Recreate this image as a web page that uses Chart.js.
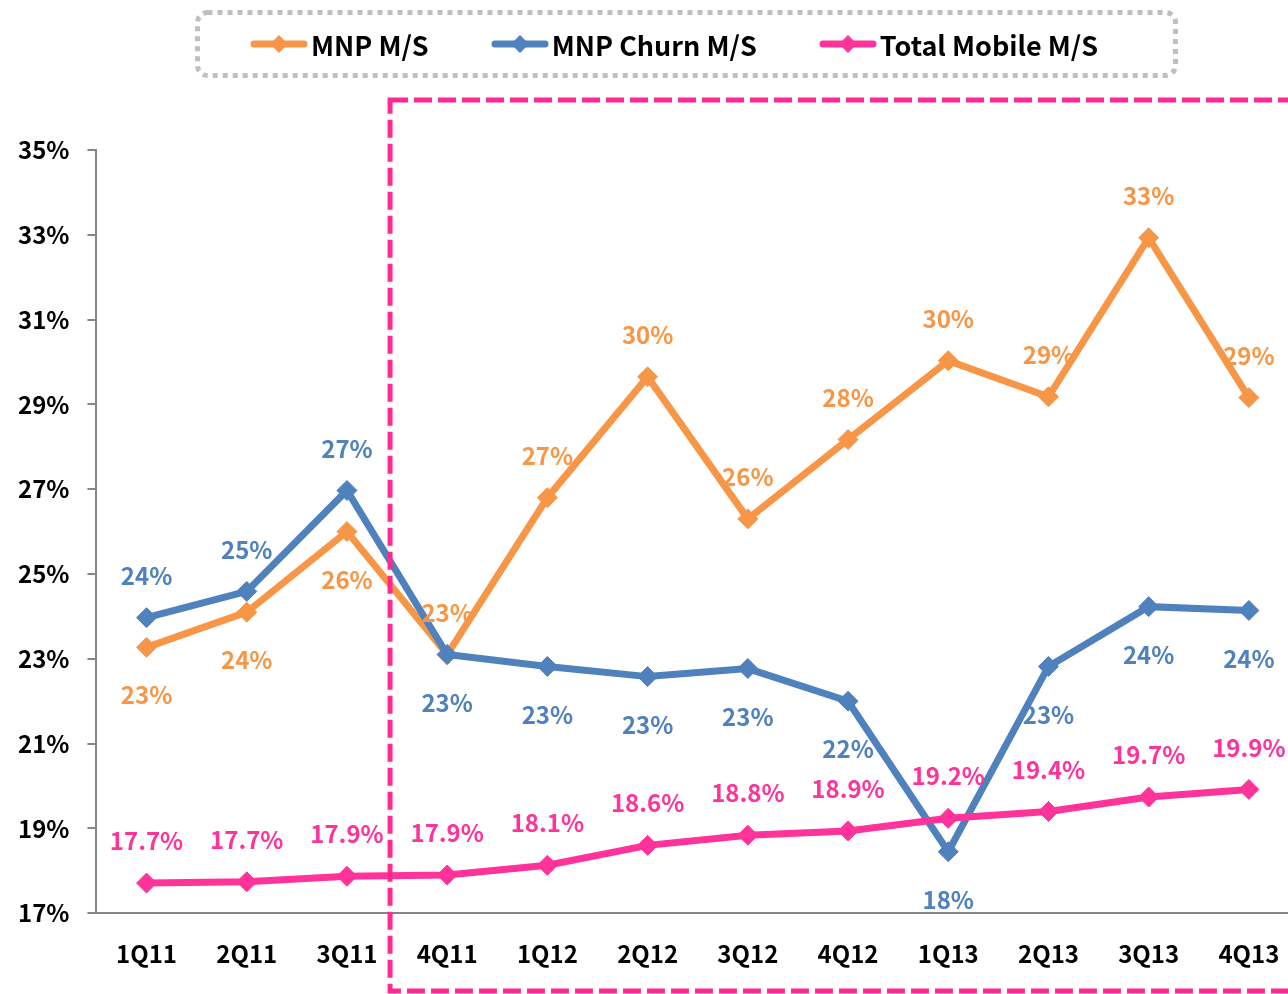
<!DOCTYPE html>
<html>
<head>
<meta charset="utf-8">
<script src="https://cdn.jsdelivr.net/npm/chart.js@4.4.1/dist/chart.umd.min.js"></script>
<style>
  html, body { margin: 0; padding: 0; background: #fff; overflow: hidden; }
  #wrap { position: relative; width: 1310px; height: 994px; }
  #legend { position: absolute; left: 195px; top: 10px; width: 983px; height: 68px; }
  #legend svg.box { position: absolute; left: 0; top: 0; }
  #legend .items { position: absolute; left: 55px; top: 0; height: 68px; display: flex; align-items: center;
    font-family: "Noto Sans CJK KR", "DejaVu Sans", sans-serif; font-weight: bold; font-size: 27px; color: #000; }
  #legend .item { display: flex; align-items: center; margin-right: 62px; }
  #legend .item svg { margin-right: 3px; }
</style>
</head>
<body>
<div id="wrap">
  <canvas id="mycanvas" width="1310" height="994"></canvas>
  <div id="legend"></div>
</div>
<script>
var quarters = ['1Q11', '2Q11', '3Q11', '4Q11', '1Q12', '2Q12', '3Q12', '4Q12', '1Q13', '2Q13', '3Q13', '4Q13'];
var mnpShare = [23.27, 24.1, 26.0, 23.1, 26.8, 29.65, 26.3, 28.17, 30.03, 29.18, 32.93, 29.16];
var mnpChurn = [23.97, 24.59, 26.97, 23.1, 22.82, 22.58, 22.77, 22.0, 18.45, 22.82, 24.23, 24.14];
var totalShare = [17.71, 17.74, 17.87, 17.9, 18.13, 18.6, 18.84, 18.94, 19.24, 19.4, 19.74, 19.92];
var yTicks = [17, 19, 21, 23, 25, 27, 29, 31, 33, 35];

// where each value label sits relative to its point
var labelSides = [
  ['below', 'below', 'below', 'above', 'above', 'above', 'above', 'above', 'above', 'above', 'above', 'above'],
  ['above', 'above', 'above', 'below', 'below', 'below', 'below', 'below', 'below', 'below', 'below', 'below'],
  ['above', 'above', 'above', 'above', 'above', 'above', 'above', 'above', 'above', 'above', 'above', 'above']
];

var orange = '#F79646';
var blue = '#4F81BD';
var pink = '#FF3399';
var font = '"Noto Sans CJK KR", "DejaVu Sans", sans-serif';

function series(label, data, color, order) {
  return {
    label: label,
    data: data,
    order: order,
    borderColor: color,
    backgroundColor: color,
    borderWidth: 7,
    pointStyle: 'rectRot',
    pointRadius: 10,
    pointBorderWidth: 1,
    pointBackgroundColor: color,
    pointBorderColor: color,
    tension: 0,
    fill: false
  };
}

var chartdata = {
  labels: quarters,
  datasets: [
    series('MNP M/S', mnpShare, orange, 3),
    series('MNP Churn M/S', mnpChurn, blue, 2),
    series('Total Mobile M/S', totalShare, pink, 1)
  ]
};

// legend (html, matching the dotted box on top)
var legendEl = document.getElementById('legend');
var html = '<svg class="box" width="983" height="68"><rect x="2.5" y="2.5" width="978" height="63" rx="10" ry="10" fill="none" stroke="#BFBFBF" stroke-width="5" stroke-dasharray="5 5"/></svg><div class="items">';
chartdata.datasets.forEach(function (ds) {
  html += '<div class="item"><svg width="58" height="20"><line x1="4" y1="10" x2="54" y2="10" stroke="' + ds.borderColor +
    '" stroke-width="7" stroke-linecap="round"/><polygon points="29,1 38,10 29,19 20,10" fill="' + ds.borderColor +
    '"/></svg><span>' + ds.label + '</span></div>';
});
html += '</div>';
legendEl.innerHTML = html;

var focusBox = {
  id: 'focusBox',
  afterDatasetsDraw: function (chart) {
    var ctx = chart.ctx;
    var x = chart.scales.x;
    var area = chart.chartArea;
    var left = (x.getPixelForValue(2) + x.getPixelForValue(3)) / 2 - 7;
    ctx.save();
    ctx.strokeStyle = '#FF2990';
    ctx.lineWidth = 5;
    ctx.setLineDash([18, 6]);
    ctx.strokeRect(left, area.top - 50, chart.width - left + 20, chart.height - 3 - (area.top - 50));
    ctx.restore();
  }
};

var valueLabels = {
  id: 'valueLabels',
  afterDatasetsDraw: function (chart) {
    var ctx = chart.ctx;
    ctx.save();
    ctx.font = 'bold 24px ' + font;
    ctx.textAlign = 'center';
    ctx.textBaseline = 'middle';
    chart.data.datasets.forEach(function (ds, i) {
      var meta = chart.getDatasetMeta(i);
      ctx.fillStyle = ds.borderColor;
      meta.data.forEach(function (pt, j) {
        var v = ds.data[j];
        var text = i === 2 ? v.toFixed(1) + '%' : Math.round(v) + '%';
        var w = ctx.measureText(text).width;
        var cx = Math.min(pt.x, 1286 - w / 2);
        var cy = labelSides[i][j] === 'above' ? pt.y - 42 : pt.y + 48;
        ctx.fillText(text, cx, cy);
      });
    });
    ctx.restore();
  }
};

var ctx = document.getElementById('mycanvas');
var LineGraph = new Chart(ctx, {
  type: 'line',
  data: chartdata,
  plugins: [focusBox, valueLabels],
  options: {
    responsive: false,
    animation: false,
    devicePixelRatio: 1,
    layout: { padding: { top: 150, left: 0, right: 3, bottom: 0 } },
    plugins: {
      legend: { display: false },
      tooltip: { enabled: false }
    },
    scales: {
      x: {
        offset: true,
        grid: { display: false, drawTicks: false },
        border: { display: true, color: '#868686', width: 2 },
        ticks: { color: '#000', padding: 26, font: { family: font, size: 24, weight: 'bold' } }
      },
      y: {
        min: 17,
        max: 35,
        afterBuildTicks: function (axis) {
          axis.ticks = yTicks.map(function (v) { return { value: v }; });
        },
        grid: { drawOnChartArea: false, drawTicks: true, tickLength: 9, color: '#868686', lineWidth: 2 },
        border: { display: true, color: '#868686', width: 2 },
        ticks: {
          color: '#000',
          padding: 18,
          font: { family: font, size: 24, weight: 'bold' },
          callback: function (v) { return v + '%'; }
        }
      }
    }
  }
});
</script>
</body>
</html>
